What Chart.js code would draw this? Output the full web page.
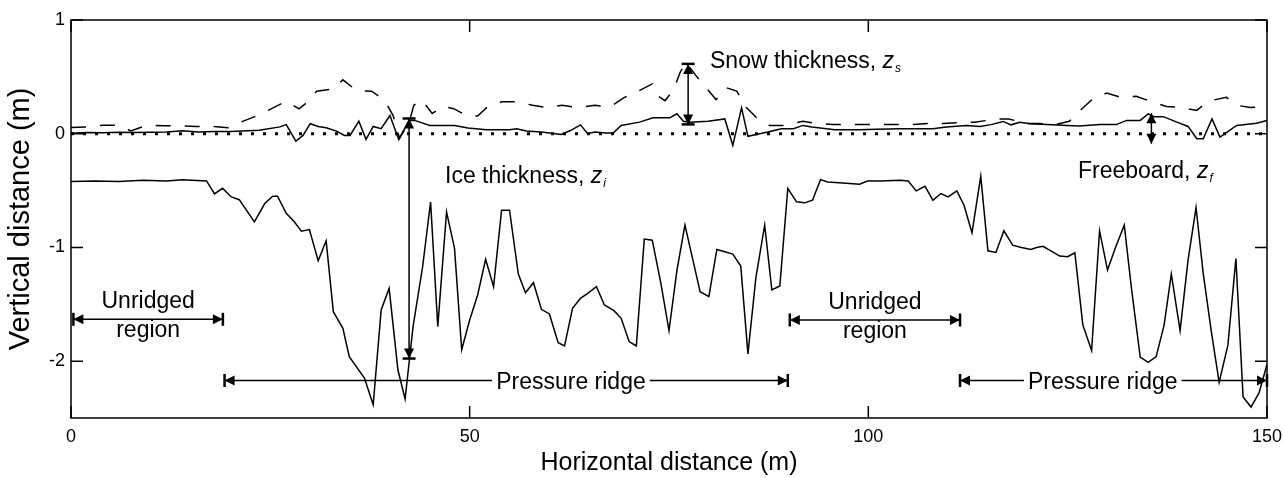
<html lang="en">
<head>
<meta charset="utf-8">
<title>Ice ridge profile</title>
<script src="https://cdn.jsdelivr.net/npm/chart.js"></script>
<style>
  body { margin: 0; background: #fff; }
</style>
</head>
<body>
<canvas id="myChart" width="1284" height="478"></canvas>
<script>
// ice bottom (draft), metres
const iceBottomX = [0, 3, 6, 9, 12, 14, 17, 18, 19, 20.1, 21.1, 23, 24.3, 25.3, 25.9, 27, 28, 28.9, 29.9, 31, 32, 32.9, 34.1, 34.9, 36.8, 37.9, 38.9, 39.9, 41, 41.9, 42.9, 44.1, 45.1, 46, 47.1, 48.1, 49, 50, 51, 52, 53, 54, 55, 56.1, 57, 58, 59, 60, 61.1, 61.9, 62.9, 63.9, 64.8, 65.9, 66.9, 68.1, 69, 70, 70.9, 71.9, 72.9, 74, 75, 76, 77, 78, 78.9, 80, 81, 82, 83, 84, 84.9, 85.9, 87, 87.9, 88.9, 89.9, 91, 92, 93, 94, 94.9, 96.8, 98.9, 99.9, 101.5, 104, 105, 106, 107.1, 108.1, 109.1, 110, 111.1, 112, 113, 114.1, 115, 116, 117, 118.1, 119.2, 120.4, 121.1, 121.9, 122.9, 124, 125, 125.9, 126.9, 128, 129, 130, 131, 132.1, 133, 134.1, 135.1, 136.1, 137.1, 138, 139.1, 140.1, 141.1, 142, 143, 144, 145.1, 146.1, 147, 148, 149, 150];
const iceBottomY = [-0.42, -0.415, -0.42, -0.41, -0.415, -0.405, -0.415, -0.53, -0.48, -0.556, -0.58, -0.775, -0.614, -0.55, -0.55, -0.70, -0.775, -0.857, -0.843, -1.117, -0.942, -1.565, -1.711, -1.96, -2.149, -2.383, -1.55, -1.36, -2.076, -2.333, -1.696, -1.17, -0.60, -1.696, -0.688, -1.009, -1.90, -1.638, -1.418, -1.105, -1.345, -0.673, -0.673, -1.234, -1.398, -1.31, -1.544, -1.585, -1.837, -1.866, -1.535, -1.448, -1.404, -1.345, -1.506, -1.556, -1.623, -1.828, -1.866, -0.927, -0.936, -1.322, -1.731, -1.199, -0.804, -1.111, -1.389, -1.433, -1.018, -1.038, -1.059, -1.164, -1.936, -1.263, -0.804, -1.374, -1.339, -0.482, -0.599, -0.608, -0.585, -0.404, -0.424, -0.433, -0.445, -0.416, -0.416, -0.41, -0.416, -0.503, -0.462, -0.585, -0.526, -0.556, -0.503, -0.629, -0.871, -0.375, -1.03, -1.044, -0.854, -0.98, -1.0, -1.018, -1.0, -0.99, -1.03, -1.076, -1.082, -1.047, -1.681, -1.907, -0.854, -1.199, -1.0, -0.804, -1.36, -1.965, -2.01, -1.96, -1.681, -1.234, -1.731, -1.111, -0.649, -1.228, -1.731, -2.187, -1.857, -1.097, -2.316, -2.404, -2.28, -2.03];

// ice top surface (freeboard)
const surfaceX = [0, 2, 4, 6, 8, 10, 12, 14, 16, 18, 20, 23.6, 26.2, 27, 28.2, 29.1, 30, 31, 32, 33.3, 34.3, 35, 36.1, 37, 37.9, 38.9, 40, 41.1, 42.4, 43.1, 45, 48.1, 49.8, 52.1, 55, 55.9, 57.1, 59, 60, 61.5, 62.7, 63.9, 64.8, 65.7, 67.1, 68, 69, 71.3, 73, 75.1, 76, 76.8, 77.6, 79.9, 82, 83, 84.1, 84.9, 86.4, 87.4, 89.1, 90.6, 91.8, 92.9, 95.8, 98.9, 101, 104, 108.1, 109.8, 112.3, 114, 115.4, 116.9, 117.9, 119, 120.3, 122.4, 124.9, 126.5, 129, 131.1, 132.4, 134.1, 135.1, 135.8, 137, 138.7, 140.1, 141.2, 142, 143.1, 144.1, 146.2, 148.7, 150];
const surfaceY = [0.005, 0.01, 0.008, 0.012, 0.01, 0.012, 0.015, 0.025, 0.015, 0.02, 0.02, 0.03, 0.06, 0.08, -0.065, -0.015, 0.088, 0.064, 0.053, 0.023, -0.015, -0.015, 0.11, -0.05, 0.064, 0.044, 0.16, -0.05, 0.117, 0.117, 0.073, 0.073, 0.05, 0.035, 0.035, 0.044, 0.023, 0.015, 0.006, -0.006, 0.03, 0.078, 0, 0.015, 0.006, 0.006, 0.073, 0.102, 0.14, 0.14, 0.175, 0.11, 0.10, 0.11, 0.13, -0.102, 0.228, -0.023, 0, 0.015, 0.044, 0.044, 0.073, 0.06, 0.035, 0.035, 0.04, 0.044, 0.044, 0.06, 0.073, 0.064, 0.08, 0.108, 0.078, 0.1, 0.088, 0.08, 0.073, 0.067, 0.08, 0.08, 0.117, 0.117, 0.175, 0.15, 0.15, 0.102, 0.064, -0.044, -0.044, 0.13, -0.03, 0.073, 0.093, 0.117];

// snow surface
const snowX = [0, 2, 4, 6, 7.5, 9.6, 11.7, 13.6, 15.7, 17.6, 19.7, 21.3, 23.4, 25.1, 27, 28.6, 29.7, 30.8, 32.9, 34.1, 35.8, 37.7, 39.3, 40.4, 41.2, 42.4, 43, 44, 45.3, 46.6, 48, 49.6, 51, 52.3, 54, 56, 57.9, 59.8, 61.6, 63.6, 65.7, 67.6, 69.3, 71.1, 72.9, 73.7, 74.5, 75.6, 76.4, 77.1, 78.5, 79.6, 80.9, 82.2, 83.5, 84.7, 86, 87.6, 89.5, 91.8, 93.5, 95.6, 97.6, 99.6, 101.4, 103.5, 105.4, 107.6, 109.4, 111.9, 113.3, 116.1, 117.6, 119.8, 121.5, 123.5, 125.2, 126.8, 128.2, 129.9, 131.7, 133.6, 135.3, 137.4, 139.2, 141.2, 142.6, 144.9, 146.2, 147.9, 150];
const snowY = [0.055, 0.06, 0.075, 0.075, 0.025, 0.075, 0.07, 0.07, 0.064, 0.064, 0.053, 0.102, 0.16, 0.219, 0.286, 0.219, 0.28, 0.374, 0.395, 0.474, 0.38, 0.374, 0.297, 0.16, -0.04, 0.1, 0.25, 0.297, 0.178, 0.24, 0.22, 0.16, 0.155, 0.24, 0.28, 0.28, 0.25, 0.23, 0.25, 0.23, 0.25, 0.235, 0.315, 0.373, 0.438, 0.327, 0.29, 0.39, 0.54, 0.63, 0.5, 0.41, 0.3, 0.404, 0.375, 0.23, 0.14, 0.073, 0.073, 0.11, 0.09, 0.08, 0.08, 0.08, 0.08, 0.08, 0.08, 0.09, 0.09, 0.1, 0.1, 0.13, 0.13, 0.09, 0.09, 0.08, 0.11, 0.22, 0.31, 0.357, 0.32, 0.33, 0.286, 0.24, 0.23, 0.205, 0.286, 0.32, 0.25, 0.23, 0.24];

// sea level
const seaLevelX = [0, 150];
const seaLevelY = [0, 0];

const xTickValues = [0, 50, 100, 150];
const yTickValues = [1, 0, -1, -2];

// annotation arrows: [x1, y1, x2, y2]
const iceArrow = [42.4, 0.134, 42.4, -1.977];
const snowArrow = [77.4, 0.614, 77.4, 0.082];
const freeboardArrow = [135.5, 0.18, 135.5, -0.088];
const unridgedArrows = [[0.3, -1.632, 19.05, -1.632], [90.15, -1.638, 111.5, -1.638]];
const ridgeArrows = [[19.26, -2.17, 89.9, -2.17], [111.5, -2.17, 150, -2.17]];
const ridgeLabelX = [62.7, 129.4];

const pts = (xs, ys) => xs.map((x, i) => ({x: x, y: ys[i]}));

const FONT = '"Liberation Sans", Arial, sans-serif';

function head(ctx, px, py, dx, dy, bar) {
  const len = 10, hw = 5, bw = 6.5;
  const nx = -dy, ny = dx;
  ctx.beginPath();
  ctx.moveTo(px, py);
  ctx.lineTo(px - dx * len + nx * hw, py - dy * len + ny * hw);
  ctx.lineTo(px - dx * len - nx * hw, py - dy * len - ny * hw);
  ctx.closePath();
  ctx.fill();
  if (bar) {
    ctx.save();
    ctx.lineWidth = 2.5;
    ctx.beginPath();
    ctx.moveTo(px + nx * bw, py + ny * bw);
    ctx.lineTo(px - nx * bw, py - ny * bw);
    ctx.stroke();
    ctx.restore();
  }
}

function arrow(chart, a, bar, gap) {
  const {ctx, scales: {x, y}} = chart;
  const x1 = x.getPixelForValue(a[0]), y1 = y.getPixelForValue(a[1]);
  const x2 = x.getPixelForValue(a[2]), y2 = y.getPixelForValue(a[3]);
  const L = Math.hypot(x2 - x1, y2 - y1);
  const dx = (x2 - x1) / L, dy = (y2 - y1) / L;
  ctx.lineWidth = 1.5;
  ctx.beginPath();
  if (gap) {
    ctx.moveTo(x1, y1); ctx.lineTo(gap[0], y1);
    ctx.moveTo(gap[1], y2); ctx.lineTo(x2, y2);
  } else {
    ctx.moveTo(x1, y1); ctx.lineTo(x2, y2);
  }
  ctx.stroke();
  head(ctx, x1, y1, -dx, -dy, bar);
  head(ctx, x2, y2, dx, dy, bar);
}

function zLabel(ctx, text, sub, px, py) {
  ctx.textAlign = 'left';
  ctx.textBaseline = 'alphabetic';
  ctx.font = '23px ' + FONT;
  ctx.fillText(text, px, py);
  let w = ctx.measureText(text).width;
  ctx.font = 'italic 23px ' + FONT;
  ctx.fillText('z', px + w, py);
  w += ctx.measureText('z').width;
  ctx.font = 'italic 12px ' + FONT;
  ctx.fillText(sub, px + w + 1, py + 4);
}

const annotations = {
  id: 'annotations',
  afterDatasetsDraw(chart) {
    const {ctx, chartArea: a, scales: {x, y}} = chart;
    ctx.save();
    ctx.strokeStyle = '#000';
    ctx.fillStyle = '#000';

    // frame with inward ticks on all sides
    ctx.lineWidth = 1.5;
    ctx.strokeRect(a.left, a.top, a.right - a.left, a.bottom - a.top);
    ctx.beginPath();
    xTickValues.forEach(v => {
      const p = x.getPixelForValue(v);
      ctx.moveTo(p, a.bottom); ctx.lineTo(p, a.bottom - 12);
      ctx.moveTo(p, a.top); ctx.lineTo(p, a.top + 12);
    });
    yTickValues.forEach(v => {
      const p = y.getPixelForValue(v);
      ctx.moveTo(a.left, p); ctx.lineTo(a.left + 12, p);
      ctx.moveTo(a.right, p); ctx.lineTo(a.right - 12, p);
    });
    ctx.stroke();

    // vertical thickness arrows
    arrow(chart, iceArrow, true);
    arrow(chart, snowArrow, true);
    arrow(chart, freeboardArrow, false);

    // region arrows
    ctx.font = '23px ' + FONT;
    ctx.textAlign = 'center';
    ctx.textBaseline = 'alphabetic';
    unridgedArrows.forEach(r => {
      arrow(chart, r, true);
      const cx = (x.getPixelForValue(r[0]) + x.getPixelForValue(r[2])) / 2;
      const py = y.getPixelForValue(r[1]);
      ctx.fillText('Unridged', cx, py - 11);
      ctx.fillText('region', cx, py + 18);
    });
    ridgeArrows.forEach((r, i) => {
      const cx = x.getPixelForValue(ridgeLabelX[i]);
      const py = y.getPixelForValue(r[1]);
      ctx.font = '23px ' + FONT;
      const w = ctx.measureText('Pressure ridge').width;
      arrow(chart, r, true, [cx - w / 2 - 4, cx + w / 2 + 4]);
      ctx.textAlign = 'center';
      ctx.fillText('Pressure ridge', cx, py + 9);
    });

    // thickness labels
    zLabel(ctx, 'Snow thickness, ', 's', 710, 68);
    zLabel(ctx, 'Ice thickness, ', 'i', 445, 183);
    zLabel(ctx, 'Freeboard, ', 'f', 1078, 178);
    ctx.restore();
  }
};

const lineStyle = {showLine: true, pointRadius: 0, borderColor: '#000', borderWidth: 1.5, tension: 0, fill: false};

new Chart(document.getElementById('myChart'), {
  type: 'scatter',
  data: {
    datasets: [
      Object.assign({label: 'Sea level', data: pts(seaLevelX, seaLevelY)}, lineStyle, {borderWidth: 3, borderDash: [3, 9]}),
      Object.assign({label: 'Snow surface', data: pts(snowX, snowY)}, lineStyle, {borderDash: [15, 14]}),
      Object.assign({label: 'Ice surface', data: pts(surfaceX, surfaceY)}, lineStyle),
      Object.assign({label: 'Ice bottom', data: pts(iceBottomX, iceBottomY)}, lineStyle)
    ]
  },
  options: {
    responsive: false,
    animation: false,
    layout: {padding: {left: 0, right: 17, top: 20, bottom: 0}},
    plugins: {legend: {display: false}, tooltip: {enabled: false}},
    scales: {
      x: {
        type: 'linear', position: 'bottom', min: 0, max: 150,
        grid: {display: false, drawTicks: false},
        border: {display: false},
        afterBuildTicks: s => { s.ticks = xTickValues.map(v => ({value: v})); },
        afterFit: s => { s.height = 60; s.paddingLeft = 0; s.paddingRight = 0; },
        ticks: {color: '#000', padding: 8, font: {family: FONT, size: 18}},
        title: {display: true, text: 'Horizontal distance (m)', color: '#000', padding: {top: 0, bottom: 0}, font: {family: FONT, size: 25}}
      },
      y: {
        type: 'linear', min: -2.5, max: 1,
        grid: {display: false, drawTicks: false},
        border: {display: false},
        afterBuildTicks: s => { s.ticks = yTickValues.map(v => ({value: v})); },
        afterFit: s => { s.width = 71; s.paddingTop = 0; s.paddingBottom = 0; },
        ticks: {color: '#000', padding: 6, font: {family: FONT, size: 18}},
        title: {display: true, text: 'Vertical distance (m)', color: '#000', padding: {top: 4, bottom: 0}, font: {family: FONT, size: 29}}
      }
    }
  },
  plugins: [annotations]
});
</script>
</body>
</html>
